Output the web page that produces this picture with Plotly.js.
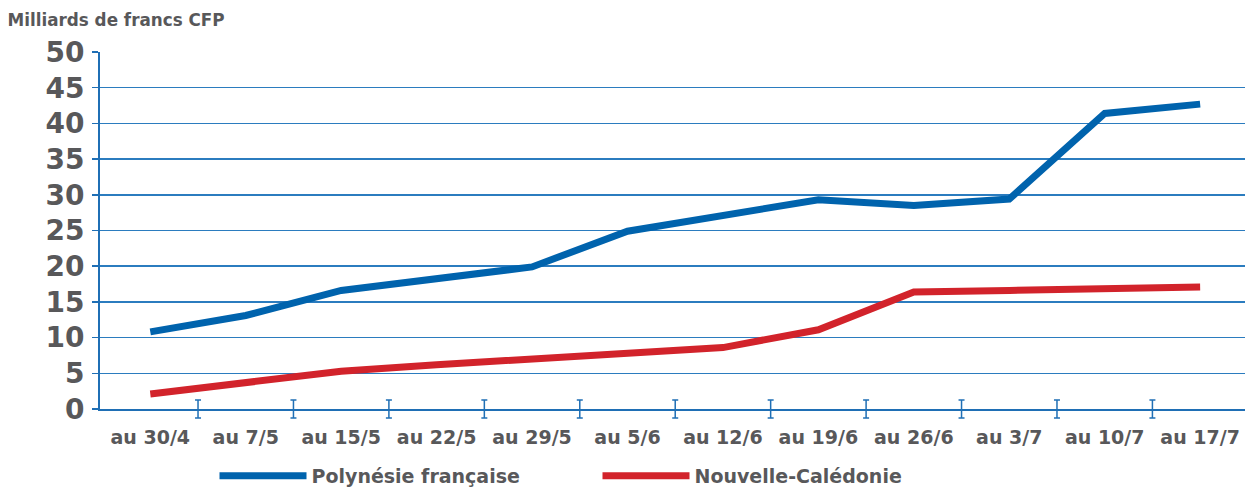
<!DOCTYPE html>
<html>
<head>
<meta charset="utf-8">
<script src="https://cdn.plot.ly/plotly-3.0.1.min.js"></script>
<style>html,body{margin:0;padding:0;background:#fff}#chart{width:1245px;height:488px}</style>
</head>
<body>
<div id="chart"></div>
<script>
const categories = ["au 30/4","au 7/5","au 15/5","au 22/5","au 29/5","au 5/6","au 12/6","au 19/6","au 26/6","au 3/7","au 10/7","au 17/7"];
const polynesie = [10.8, 13.1, 16.6, 18.3, 19.9, 24.9, 27.1, 29.3, 28.5, 29.4, 41.4, 42.7];
const caledonie = [2.1, 3.8, 5.3, 6.2, 7.0, 7.7, 8.6, 11.1, 16.4, 16.6, 16.9, 17.1];
const seriesNames = ["Polynésie française", "Nouvelle-Calédonie"];
const yTicks = [0, 5, 10, 15, 20, 25, 30, 35, 40, 45, 50];

// boundaries between consecutive categories (for the "I"-shaped tick marks)
const boundaries = categories.slice(1).map((_, i) => i + 0.5);

const gray = "#58585a";
const axisBlue = "#1f6fb5";
const font = "'DejaVu Sans', sans-serif";
const xRange = [-0.527, 11.47];

// geometry: plot area 52..428 px; main y domain ends at 409 px; helper strip 390..428 px
const H = 488, T = 52, B = 60;
const plotH = H - T - B;
const axisGap = 19;                 // px between main x axis and bottom of plot area
const yDomBottom = axisGap / plotH;
const tickHalf = 9 / axisGap;       // half height of I ticks, in helper-axis units (range [-1,1])

const traces = [
  {x: categories, y: polynesie, name: seriesNames[0], type: "scatter", mode: "lines",
   line: {color: "#0063ad", width: 7}},
  {x: categories, y: caledonie, name: seriesNames[1], type: "scatter", mode: "lines",
   line: {color: "#d2232b", width: 7}},
  // I-shaped category-boundary ticks
  {x: boundaries, y: boundaries.map(() => 0), xaxis: "x2", yaxis: "y2", type: "scatter", mode: "markers",
   marker: {size: 1, opacity: 0}, cliponaxis: false, showlegend: false, hoverinfo: "skip",
   error_y: {type: "constant", value: tickHalf, symmetric: true, color: axisBlue, thickness: 1.5, width: 3}}
];

const layout = {
  width: 1245, height: H,
  margin: {l: 100, r: 0, t: T, b: B},
  paper_bgcolor: "#ffffff", plot_bgcolor: "rgba(0,0,0,0)",
  font: {family: font, color: gray},
  title: {text: "Milliards de francs CFP", font: {family: font, size: 16.8, color: gray, weight: "bold"},
          x: 0.006, xref: "container", xanchor: "left", y: 0.958, yref: "container", yanchor: "middle"},
  xaxis: {type: "category", categoryarray: categories, range: xRange, anchor: "y",
          showline: true, linecolor: axisBlue, linewidth: 2,
          ticks: "", showgrid: false, zeroline: false, ticklabelstandoff: 10,
          tickfont: {family: font, size: 19, color: gray, weight: "bold"}},
  xaxis2: {type: "linear", overlaying: "x", anchor: "y2", range: xRange, visible: false},
  yaxis: {domain: [yDomBottom, 1], range: [0, 50], tickvals: yTicks, ticktext: yTicks.map(String),
          showline: true, linecolor: axisBlue, linewidth: 2, anchor: "x",
          showgrid: true, gridcolor: "#2b7cbf", gridwidth: 1.5, zeroline: false,
          ticks: "outside", ticklen: 6, tickwidth: 1.5, tickcolor: axisBlue, ticklabelstandoff: 2,
          tickfont: {family: font, size: 28, color: gray, weight: "bold"}},
  yaxis2: {domain: [0, 2 * yDomBottom], range: [-1, 1], anchor: "x2", visible: false},
  legend: {orientation: "h", x: 0.1, xanchor: "left", y: 0.025, yref: "container", yanchor: "middle",
           itemwidth: 87, entrywidth: 281, traceorder: "normal",
           font: {family: font, size: 19, color: gray, weight: "bold"}, bgcolor: "rgba(0,0,0,0)"},
  showlegend: true
};

Plotly.newPlot("chart", traces, layout, {displayModeBar: false, staticPlot: true});
</script>
</body>
</html>
